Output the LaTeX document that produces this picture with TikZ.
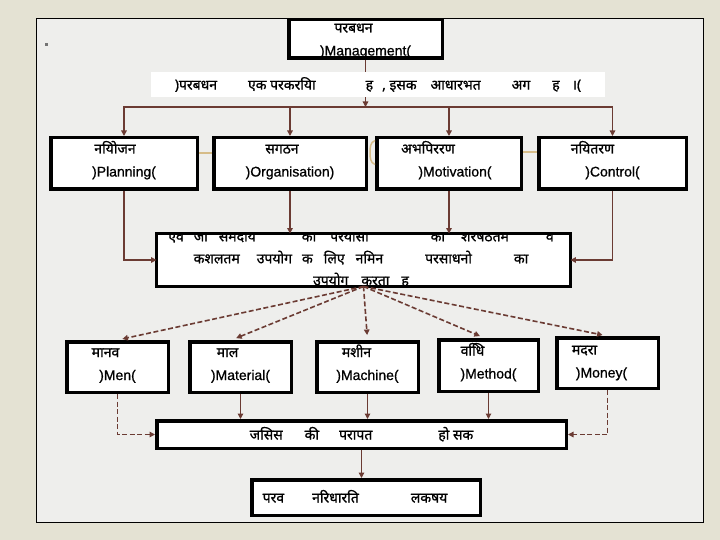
\documentclass[tikz,border=0pt]{standalone}
\usepackage{fontspec}
\setmainfont{Noto Sans}[Script=Devanagari, FakeBold=1]
\newfontfamily\latn{Liberation Sans}[FakeBold=0.8]
\usetikzlibrary{arrows.meta}
\definecolor{paper}{HTML}{E4E2D3}
\definecolor{slide}{HTML}{EEEEEC}
\definecolor{wire}{HTML}{6B3B33}
\definecolor{sand}{HTML}{D6BC88}

\begin{document}
\begin{tikzpicture}[x=1pt, y=-1pt, font=\fontsize{14}{23}\selectfont,
  blk/.style={draw=black, line width=3.5pt, fill=white, inner sep=0pt, align=center,
    text height=26pt, text depth=0pt},
  link/.style={wire, line width=1.6pt, -{Triangle[length=5.5pt,width=5.5pt]}},
  dlink/.style={link, dash pattern=on 5pt off 2.5pt}]
  \useasboundingbox[fill=paper] (0,0) rectangle (720,540);
  \draw[fill=slide, line width=0.8pt] (36,18) rectangle (703,522);
  \fill[black!55] (45,43) rectangle (48,46);

  \node[blk, minimum width=153.5pt, minimum height=38.5pt, text height=33pt] (mgmt) at (365.5,39) {परबधन\hspace*{24pt}\\{\latn )Management(}};
  \coordinate (hub) at (365.5,107);
  \draw[link] (mgmt.south) -- (hub);
  \node[fill=white, minimum width=454pt, minimum height=25pt, inner sep=0pt] (strip) at (378,84.5)
    {)परबधन\hspace{31pt}एक परकरयिा\hspace{50pt}ह\hspace{9pt}, इसक\hspace{14pt}आधारभत\hspace{31pt}अग\hspace{22pt}ह\hspace{12pt}।(};

  \node[blk, minimum width=146.5pt, minimum height=51.5pt] (plan) at (124,163.5) {नयिोजन\hspace*{18pt}\\{\latn )Planning(}};
  \node[blk, minimum width=152.5pt, minimum height=51.5pt] (org) at (290,163.5) {सगठन\hspace*{16pt}\\{\latn )Organisation)}};
  \node[blk, minimum width=144.5pt, minimum height=51.5pt] (motiv) at (449,163.5) {अभपिररण\hspace*{42pt}\\\hspace*{12pt}{\latn )Motivation(}};
  \node[blk, minimum width=147.5pt, minimum height=51.5pt] (ctrl) at (612.5,163.5) {नयितरण\hspace*{40pt}\\{\latn )Control(}};
  \draw[sand, line width=2pt] ([yshift=10pt]plan.east) -- ([yshift=10pt]org.west);
  \draw[sand, line width=2pt] ([yshift=11pt]motiv.east) -- ([yshift=11pt]ctrl.west);
  \draw[sand, line width=1.5pt] ([yshift=23pt]motiv.west) to[out=200, in=90] ([xshift=-5pt, yshift=11pt]motiv.west)
    to[out=-90, in=160] ([yshift=-1pt]motiv.west);
  \draw[link] (hub) -| (plan.north);
  \draw[link] (hub) -| (org.north);
  \draw[link] (hub) -| (motiv.north);
  \draw[link] (hub) -| (ctrl.north);

  \node[fill=white, minimum width=413.5pt, minimum height=52.5pt, inner sep=0pt] (bigbox) at (363.5,260) {};
  \begin{scope}
    \clip (bigbox.north west) rectangle (bigbox.south east);
    \node[align=center, font=\fontsize{14}{22}\selectfont] (bigtext) at (361,258)
      {एव\hspace{10pt}जो\hspace{11pt}समदाय\hspace{46pt}का\hspace{14pt}परयासो\hspace{62pt}का\hspace{16pt}शरषठतम\hspace{37pt}व\\
       कशलतम\hspace{17pt}उपयोग\hspace{10pt}क\hspace{11pt}लिए\hspace{11pt}नमिन\hspace{42pt}परसाधनो\hspace{42pt}का\hspace*{30pt}\\
       उपयोग\hspace{13pt}करता\hspace{12pt}ह};
  \end{scope}
  \draw[line width=3.5pt] (bigbox.north west) rectangle (bigbox.south east);
  \draw[link] (plan.south) |- (bigbox.west);
  \draw[link] (ctrl.south) |- (bigbox.east);
  \draw[link] (org.south) -- (org.south |- bigbox.north);
  \draw[link] (motiv.south) -- (motiv.south |- bigbox.north);

  \node[blk, minimum width=101.5pt, minimum height=50.5pt] (men) at (117.5,367) {मानव\hspace*{24pt}\\{\latn )Men(}};
  \node[blk, minimum width=101.5pt, minimum height=50.5pt] (mat) at (240.5,367) {माल\hspace*{26pt}\\{\latn )Material(}};
  \node[blk, minimum width=101.5pt, minimum height=50.5pt] (mach) at (367.5,367) {मशीन\hspace*{22pt}\\{\latn )Machine(}};
  \node[blk, minimum width=99.5pt, minimum height=51.5pt] (meth) at (488.5,365.5) {वधिि\hspace*{32pt}\\{\latn )Method(}};
  \node[blk, minimum width=101.5pt, minimum height=50.5pt, text height=29pt] (money) at (607.5,363) {मदरा\hspace*{46pt}\\{\latn )Money(}\hspace*{12pt}};
  \draw[dlink, shorten >=5pt] (bigbox.south) -- (men.north);
  \draw[dlink, shorten >=5pt] (bigbox.south) -- ([xshift=-9pt]mat.north);
  \draw[dlink, shorten >=5pt] (bigbox.south) -- (mach.north);
  \draw[dlink, shorten >=5pt] (bigbox.south) -- ([xshift=-4pt]meth.north);
  \draw[dlink, shorten >=5pt] (bigbox.south) -- (money.north);

  \node[blk, minimum width=409.5pt, minimum height=27.5pt, text height=10pt] (jsis) at (361.5,434.5)
    {जसिस\hspace{22pt}की\hspace{20pt}परापत\hspace{66pt}हो सक};
  \draw[link] (mat.south) -- (mat.south |- jsis.north);
  \draw[link] (mach.south) -- (mach.south |- jsis.north);
  \draw[link, line width=1pt] (meth.south) -- (meth.south |- jsis.north);
  \draw[dlink] (men.south) |- (jsis.west);
  \draw[dlink] (money.south) |- (jsis.east);

  \node[blk, minimum width=228.5pt, minimum height=35.5pt, text height=10pt] (goal) at (366,497.5)
    {परव\hspace{28pt}नरिधारति\hspace{52pt}लकषय\hspace*{22pt}};
  \draw[link] (jsis.south) -- (jsis.south |- goal.north);
\end{tikzpicture}
\end{document}
